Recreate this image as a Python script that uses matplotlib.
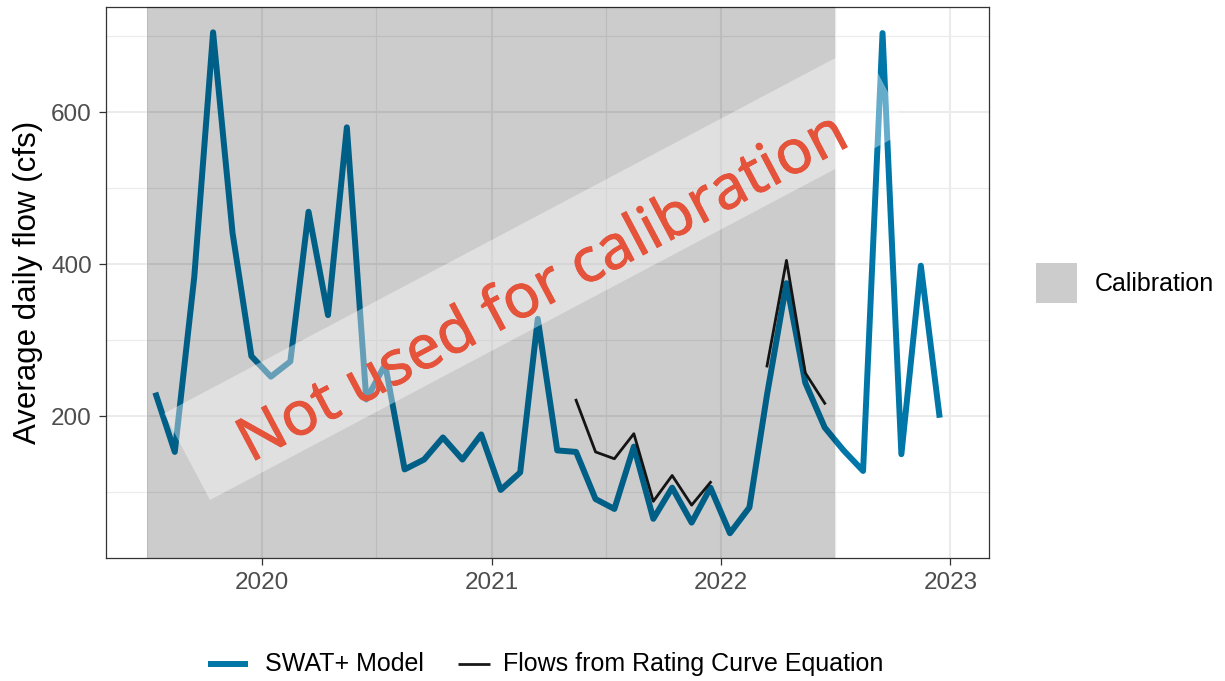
import matplotlib
matplotlib.use('Agg')
import matplotlib.pyplot as plt
import matplotlib.dates as mdates
import matplotlib.transforms as mtransforms
import matplotlib.patheffects as pe
from matplotlib.patches import Rectangle
from matplotlib.lines import Line2D
from matplotlib.ticker import MultipleLocator
import numpy as np
import pandas as pd

W, H, DPI = 1225, 681, 100

# monthly values, plotted at mid-month (Jul 2019 - Dec 2022)
months = pd.date_range('2019-07-01', '2022-12-01', freq='MS') + pd.Timedelta(days=14)
swat_flow = [231, 153, 383, 705, 441, 279, 252, 272, 469, 333, 580, 222,
             268, 130, 143, 172, 143, 176, 103, 126, 328, 155, 153, 91,
             78, 160, 65, 106, 60, 106, 46, 80, 228, 375, 244, 185,
             155, 128, 704, 150, 398, 198]

# rating curve flows, May 2021 - Jun 2022 (no values Jan/Feb 2022)
rating_months = months[22:36]
rating_flow = [221, 153, 144, 177, 88, 122, 83, 113, np.nan, np.nan,
               266, 405, 257, 217]

calib_start, calib_end = pd.Timestamp('2019-07-01'), pd.Timestamp('2022-07-01')
x_range = (pd.Timestamp('2019-04-27'), pd.Timestamp('2023-03-04'))

BLUE = '#0077A8'
RED = '#E5533B'
plt.rcParams['font.family'] = ['Liberation Sans', 'DejaVu Sans']

fig = plt.figure(figsize=(W / DPI, H / DPI), dpi=DPI)
ax = fig.add_axes([105.7 / W, 1 - 558.3 / H, (989.3 - 105.7) / W, (558.3 - 7.3) / H])

ax.plot(months, swat_flow, color=BLUE, lw=4.3, solid_joinstyle='round',
        solid_capstyle='butt', zorder=2)
ax.plot(rating_months, rating_flow, color='#1A1A1A', lw=2.0, zorder=2.5)

# calibration window drawn on top, black at 20% alpha like the original
ax.axvspan(calib_start, calib_end, color='black', alpha=0.2, lw=0, zorder=3)

lo, hi = min(swat_flow), max(swat_flow)
pad = 0.05 * (hi - lo)
ax.set_ylim(lo - pad, hi + pad)
ax.set_xlim(*x_range)

ax.yaxis.set_major_locator(MultipleLocator(200))
ax.yaxis.set_minor_locator(MultipleLocator(100))
ax.xaxis.set_major_locator(mdates.YearLocator())
ax.xaxis.set_major_formatter(mdates.DateFormatter('%Y'))
ax.xaxis.set_minor_locator(mdates.MonthLocator(bymonth=7))

ax.grid(which='major', color='#EBEBEB', lw=1.5, zorder=0)
ax.grid(which='minor', color='#EBEBEB', lw=0.8, zorder=0)
ax.set_axisbelow(True)
ax.tick_params(which='minor', length=0)
ax.tick_params(which='major', length=5, width=0.9, color='#333333',
               labelsize=17.5, labelcolor='#4D4D4D', pad=5)
for s in ax.spines.values():
    s.set_color('#333333')
    s.set_linewidth(0.9)

ax.set_ylabel('Average daily flow (cfs)', fontsize=22.5, color='black', labelpad=6)

# watermark band + text, placed in pixel space (y up)
px = mtransforms.Affine2D().scale(1 / W, 1 / H) + fig.transFigure
band = Rectangle((210, H - 500), 790, 98, angle=27.9, transform=px,
                 facecolor='white', alpha=0.4, lw=0, zorder=5)
fig.add_artist(band)
fig.text(544 / W, 1 - 290 / H, 'Not used for calibration', rotation=27.9,
         rotation_mode='anchor', ha='center', va='center', fontsize=44,
         color=RED, family=['Noto Sans', 'DejaVu Sans'], zorder=6,
         path_effects=[pe.withStroke(linewidth=0.6, foreground=RED)])

# right legend: calibration
fig.add_artist(Rectangle((1036, H - 303), 41, 40, transform=px,
                         facecolor='#CCCCCC', lw=0))
fig.text(1095 / W, 1 - 284 / H, 'Calibration', fontsize=18, va='center')

# bottom legend: lines
fig.add_artist(Line2D([208, 248], [H - 664, H - 664], transform=px,
                      color=BLUE, lw=4.3, solid_capstyle='butt'))
fig.text(265 / W, 1 - 664 / H, 'SWAT+ Model', fontsize=18, va='center')
fig.add_artist(Line2D([458, 490], [H - 664, H - 664], transform=px,
                      color='#1A1A1A', lw=2.0, solid_capstyle='butt'))
fig.text(503 / W, 1 - 664 / H, 'Flows from Rating Curve Equation', fontsize=18,
         va='center')

fig.savefig('out.png', dpi=DPI)
